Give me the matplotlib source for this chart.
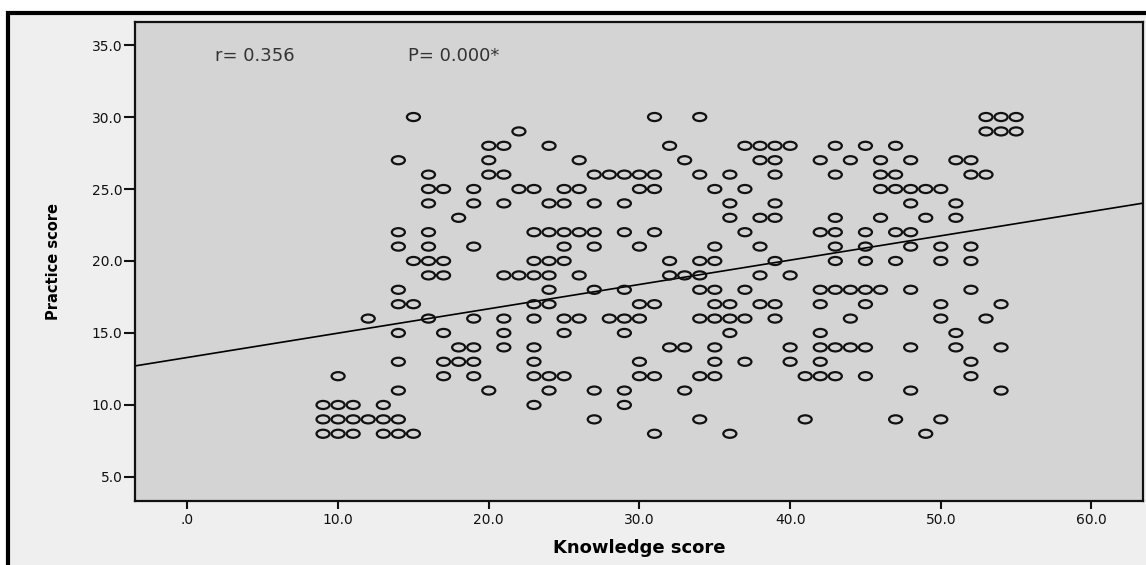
import numpy as np
import matplotlib
matplotlib.use("Agg")
import matplotlib.pyplot as plt
from matplotlib.path import Path
from matplotlib.patches import Rectangle

# knowledge scores found at each practice score (one list per row of the plot)
practice_30 = [15, 31, 34, 53, 54, 55]
practice_29 = [22, 53, 54, 55]
practice_28 = [20, 21, 24, 32, 37, 38, 39, 40, 43, 45, 47]
practice_27 = [14, 20, 26, 33, 38, 39, 42, 44, 46, 48, 51, 52]
practice_26 = [16, 20, 21, 27, 28, 29, 30, 31, 34, 36, 39, 43, 46, 47, 52, 53]
practice_25 = [16, 17, 19, 22, 23, 25, 26, 30, 31, 35, 37, 46, 47, 48, 49, 50]
practice_24 = [16, 19, 21, 24, 25, 27, 29, 36, 39, 48, 51]
practice_23 = [18, 36, 38, 39, 43, 46, 49, 51]
practice_22 = [14, 16, 23, 24, 25, 26, 27, 29, 31, 37, 42, 43, 45, 47, 48]
practice_21 = [14, 16, 19, 25, 27, 30, 35, 38, 43, 45, 48, 50, 52]
practice_20 = [15, 16, 17, 23, 24, 25, 32, 34, 35, 39, 43, 45, 47, 50, 52]
practice_19 = [16, 17, 21, 22, 23, 24, 26, 32, 33, 34, 38, 40]
practice_18 = [14, 24, 27, 29, 34, 35, 37, 42, 43, 44, 45, 46, 48, 52]
practice_17 = [14, 15, 23, 24, 30, 31, 35, 36, 38, 39, 42, 45, 50, 54]
practice_16 = [12, 16, 19, 21, 23, 25, 26, 28, 29, 30, 34, 35, 36, 37, 39, 44, 50, 53]
practice_15 = [14, 17, 21, 25, 29, 36, 42, 51]
practice_14 = [18, 19, 21, 23, 32, 33, 35, 40, 42, 43, 44, 45, 48, 51, 54]
practice_13 = [14, 17, 18, 19, 23, 30, 35, 37, 40, 42, 52]
practice_12 = [10, 17, 19, 23, 24, 25, 30, 31, 34, 35, 41, 42, 43, 45, 52]
practice_11 = [14, 20, 24, 27, 29, 33, 48, 54]
practice_10 = [9, 10, 11, 13, 23, 29]
practice_9 = [9, 10, 11, 12, 13, 14, 27, 34, 41, 47, 50]
practice_8 = [9, 10, 11, 13, 14, 15, 31, 36, 49]

rows = [
    (30, practice_30), (29, practice_29), (28, practice_28), (27, practice_27),
    (26, practice_26), (25, practice_25), (24, practice_24), (23, practice_23),
    (22, practice_22), (21, practice_21), (20, practice_20), (19, practice_19),
    (18, practice_18), (17, practice_17), (16, practice_16), (15, practice_15),
    (14, practice_14), (13, practice_13), (12, practice_12), (11, practice_11),
    (10, practice_10), (9, practice_9), (8, practice_8),
]

# fit line as drawn in the picture
fit_intercept = 13.3
fit_slope = 0.169

x_ticks = [0, 10, 20, 30, 40, 50, 60]
x_labels = [".0", "10.0", "20.0", "30.0", "40.0", "50.0", "60.0"]
y_ticks = [5, 10, 15, 20, 25, 30, 35]
y_labels = ["5.0", "10.0", "15.0", "20.0", "25.0", "30.0", "35.0"]

knowledge = np.concatenate([np.array(xs, float) for _, xs in rows])
practice = np.concatenate([np.full(len(xs), y, float) for y, xs in rows])

fig = plt.figure(figsize=(11.46, 5.65), dpi=100, facecolor="white")

# the outer frame of the chart (cut off at the right and bottom)
fig.add_artist(Rectangle((8 / 1146, -0.2), 1.3, 1.2 - 13 / 565,
                         transform=fig.transFigure, facecolor="#efefef",
                         edgecolor="black", linewidth=3, zorder=0))

ax = fig.add_axes([135 / 1146, 64 / 565, 1007.7 / 1146, 479 / 565])
ax.set_facecolor("#d4d4d4")

# the points are drawn as flat rings, like in the picture
circ = Path.unit_circle()
ellipse = Path(circ.vertices * np.array([1.0, 0.62]), circ.codes)

ax.scatter(knowledge, practice, s=88, marker=ellipse, facecolors="none",
           edgecolors="#111111", linewidths=1.6, zorder=3)
ax.axline((0, fit_intercept), slope=fit_slope, color="black", lw=1.2, zorder=2)

ax.set_xlim(-3.48, 63.4)
ax.set_ylim(3.33, 36.6)
ax.set_xticks(x_ticks)
ax.set_xticklabels(x_labels)
ax.set_yticks(y_ticks)
ax.set_yticklabels(y_labels)
ax.tick_params(axis="x", length=6, width=1.5, pad=3, labelsize=10, colors="#111111")
ax.tick_params(axis="y", length=8, width=1.5, pad=1, labelsize=10, colors="#111111")
for sp in ax.spines.values():
    sp.set_linewidth(1.6)
    sp.set_color("#111111")

ax.set_xlabel("Knowledge score", fontsize=13, fontweight="bold", labelpad=8)
ax.set_ylabel("Practice score", fontsize=10.5, fontweight="bold", labelpad=22)

ax.text(1.82, 34.24, "r= 0.356", fontsize=13, color="#333333", va="center")
ax.text(14.63, 34.24, "P= 0.000*", fontsize=13, color="#333333", va="center")

fig.savefig("out.png", dpi=100, facecolor=fig.get_facecolor())
